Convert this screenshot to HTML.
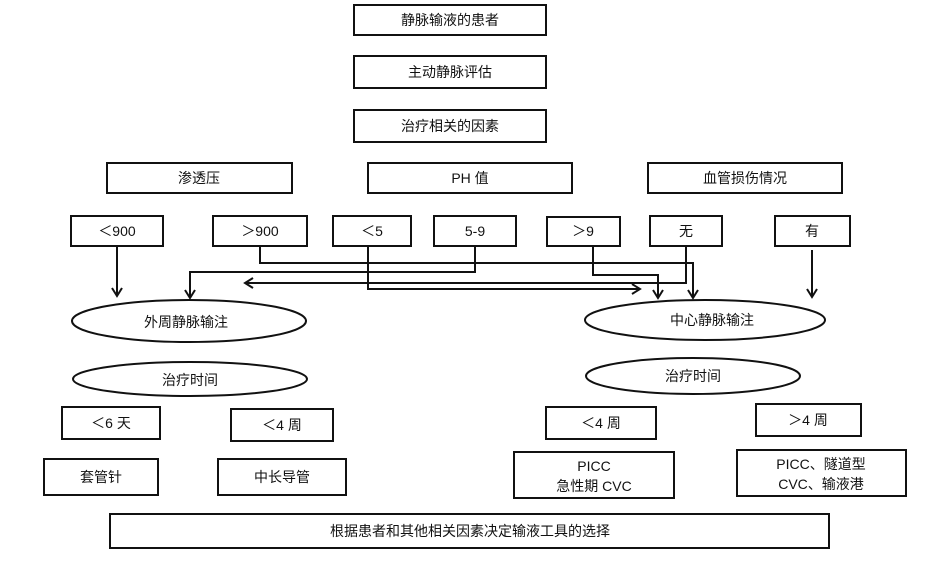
<!DOCTYPE html>
<html><head><meta charset="utf-8"><style>
html,body{margin:0;padding:0;background:#fff;}
svg text{font-family:"Liberation Sans","Noto Sans CJK SC",sans-serif;font-size:14px;fill:#111;text-anchor:middle;dominant-baseline:central;}
</style></head><body>
<svg width="934" height="570" viewBox="0 0 934 570" xmlns="http://www.w3.org/2000/svg">
<defs><marker id="a" markerWidth="12" markerHeight="12" refX="9" refY="6" orient="auto" markerUnits="userSpaceOnUse"><path d="M1,1 L9,6 L1,11" fill="none" stroke="#111" stroke-width="2"/></marker></defs>
<g fill="#fff" stroke="#111" stroke-width="2">
<rect x="354" y="5" width="192" height="30"/>
<rect x="354" y="56" width="192" height="32"/>
<rect x="354" y="110" width="192" height="32"/>
<rect x="107" y="163" width="185" height="30"/>
<rect x="368" y="163" width="204" height="30"/>
<rect x="648" y="163" width="194" height="30"/>
<rect x="71" y="216" width="92" height="30"/>
<rect x="213" y="216" width="94" height="30"/>
<rect x="333" y="216" width="78" height="30"/>
<rect x="434" y="216" width="82" height="30"/>
<rect x="547" y="217" width="73" height="29"/>
<rect x="650" y="216" width="72" height="30"/>
<rect x="775" y="216" width="75" height="30"/>
<ellipse cx="189" cy="321" rx="117" ry="21"/>
<ellipse cx="705" cy="320" rx="120" ry="20"/>
<ellipse cx="190" cy="379" rx="117" ry="17"/>
<ellipse cx="693" cy="376" rx="107" ry="18"/>
<rect x="62" y="407" width="98" height="32"/>
<rect x="231" y="409" width="102" height="32"/>
<rect x="546" y="407" width="110" height="32"/>
<rect x="756" y="404" width="105" height="32"/>
<rect x="44" y="459" width="114" height="36"/>
<rect x="218" y="459" width="128" height="36"/>
<rect x="514" y="452" width="160" height="46"/>
<rect x="737" y="450" width="169" height="46"/>
<rect x="110" y="514" width="719" height="34"/>
</g>
<g fill="none" stroke="#111" stroke-width="2">
<path d="M117 246 V296" marker-end="url(#a)"/>
<path d="M812 250 V297" marker-end="url(#a)"/>
<path d="M260 246 V263 H693 V298" marker-end="url(#a)"/>
<path d="M475 246 V272 H190 V298" marker-end="url(#a)"/>
<path d="M368 246 V289 H640" marker-end="url(#a)"/>
<path d="M593 246 V275 H658 V298" marker-end="url(#a)"/>
<path d="M686 246 V283 H245" marker-end="url(#a)"/>
</g>
<text x="450" y="20">静脉输液的患者</text>
<text x="450" y="72">主动静脉评估</text>
<text x="450" y="126">治疗相关的因素</text>
<text x="199" y="178">渗透压</text>
<text x="470" y="178">PH 值</text>
<text x="745" y="178">血管损伤情况</text>
<text x="117" y="231">＜900</text>
<text x="260" y="231">＞900</text>
<text x="372" y="231">＜5</text>
<text x="475" y="231">5-9</text>
<text x="583" y="231">＞9</text>
<text x="686" y="231">无</text>
<text x="812" y="231">有</text>
<text x="186" y="322">外周静脉输注</text>
<text x="712" y="320">中心静脉输注</text>
<text x="190" y="380">治疗时间</text>
<text x="693" y="376">治疗时间</text>
<text x="111" y="423">＜6 天</text>
<text x="282" y="425">＜4 周</text>
<text x="601" y="423">＜4 周</text>
<text x="808" y="420">＞4 周</text>
<text x="101" y="477">套管针</text>
<text x="282" y="477">中长导管</text>
<text x="594" y="466">PICC</text>
<text x="594" y="486">急性期 CVC</text>
<text x="821" y="464">PICC、隧道型</text>
<text x="821" y="484">CVC、输液港</text>
<text x="470" y="531">根据患者和其他相关因素决定输液工具的选择</text>
</svg>
</body></html>
